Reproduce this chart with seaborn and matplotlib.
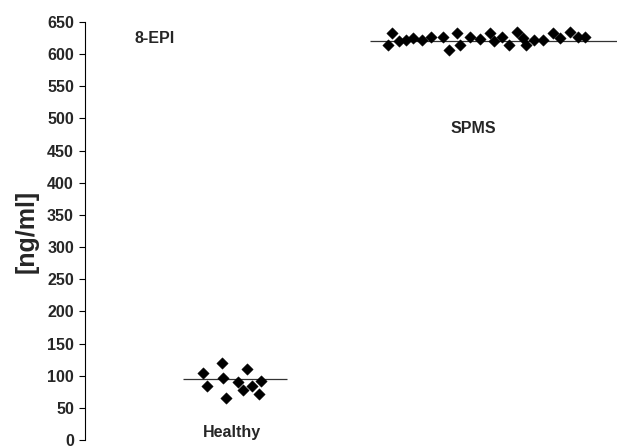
import numpy as np
import pandas as pd
import matplotlib
matplotlib.use("Agg")
import matplotlib.pyplot as plt
import seaborn as sns

# ---- data ----
groups = ["Healthy", "SPMS"]
healthy_values = [104, 84, 119, 96, 66, 90, 78, 110, 84, 71, 91]
healthy_offsets = [-0.114, -0.098, -0.039, -0.035, -0.024, 0.024, 0.043, 0.059, 0.078, 0.106, 0.114]
spms_values = [615, 633, 621, 622, 625, 622, 627, 627, 606, 633, 614, 627, 623, 633,
               620, 626, 614, 634, 625, 614, 622, 622, 633, 625, 634, 627, 627]
spms_offsets = [-0.388, -0.373, -0.345, -0.318, -0.290, -0.255, -0.220, -0.173, -0.149,
                -0.118, -0.106, -0.067, -0.027, 0.012, 0.027, 0.059, 0.086, 0.118,
                0.141, 0.153, 0.184, 0.220, 0.259, 0.286, 0.325, 0.357, 0.384]
group_lines = [95, 620]
y_ticks = list(range(0, 651, 50))
y_label = "[ng/ml]"
title_text = "8-EPI"

df = pd.DataFrame({
    "group": ["Healthy"] * len(healthy_values) + ["SPMS"] * len(spms_values),
    "value": healthy_values + spms_values,
    "offset": healthy_offsets + spms_offsets,
})
df["xpos"] = df["group"].map({g: i for i, g in enumerate(groups)}) + df["offset"]

sns.set_theme(style="white")
plt.rcParams["font.family"] = ["Liberation Sans", "DejaVu Sans"]

fig = plt.figure(figsize=(6.17, 4.46), dpi=100)
ax = fig.add_axes([85 / 617, 6 / 446, 1 - 85 / 617, (440 - 22) / 446])

sns.scatterplot(data=df, x="xpos", y="value", marker="D", color="black",
                s=34, edgecolor="black", linewidth=0.3, ax=ax, legend=False, zorder=3)

# group lines (one per group, centred on the group position)
line_extent = [(-0.19, 0.215), (-0.46, 0.6)]
for i, (lv, (a, b)) in enumerate(zip(group_lines, line_extent)):
    ax.hlines(lv, i + a, i + b, color="#333333", linewidth=0.9, zorder=2)

ax.set_xlim(-0.576, 1.51)
ax.set_ylim(0, 650)
ax.set_yticks(y_ticks)
ax.set_yticklabels([str(t) for t in y_ticks], fontweight="bold", fontsize=11.5)
ax.set_xticks([])
ax.set_xlabel("")
ax.set_ylabel(y_label, fontweight="bold", fontsize=18, labelpad=6)
ax.tick_params(axis="y", left=True, length=4, width=0.8, color="black", pad=4)
for s in ["top", "right", "bottom"]:
    ax.spines[s].set_visible(False)
ax.spines["left"].set_color("black")
ax.spines["left"].set_linewidth(0.8)

ax.text(-0.302, 625, title_text, ha="center", va="center", fontweight="bold", fontsize=11.5)
ax.text(0.945, 485, groups[1], ha="center", va="center", fontweight="bold", fontsize=11.5)
ax.text(0.0, 12, groups[0], ha="center", va="center", fontweight="bold", fontsize=11.5)

fig.savefig("out.png", dpi=100)
